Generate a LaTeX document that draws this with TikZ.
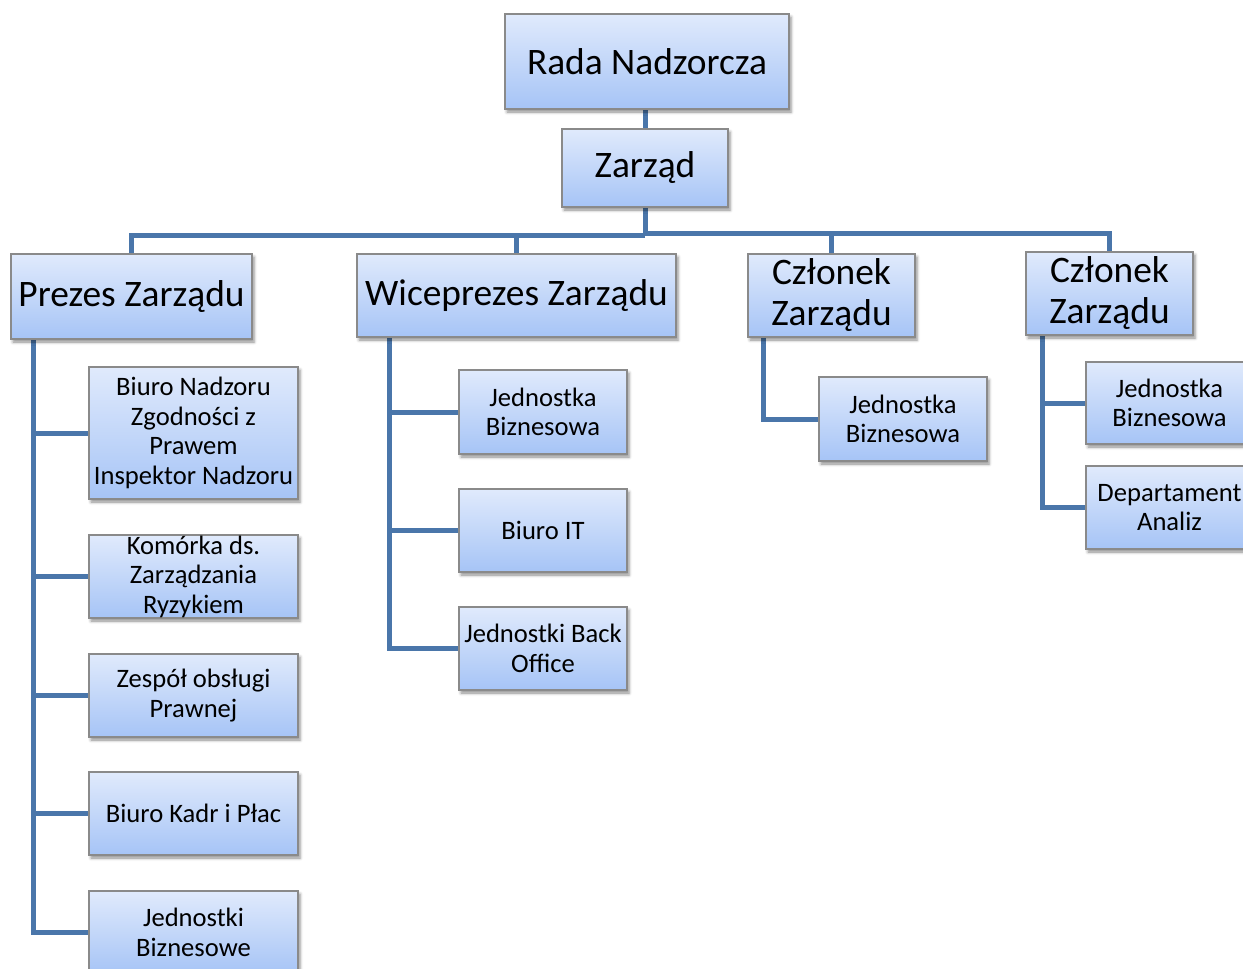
\documentclass[tikz,border=0pt]{standalone}
\usepackage{fontspec}
\setmainfont{Carlito}
\usetikzlibrary{shadows.blur,backgrounds}
\definecolor{conncol}{HTML}{4A76AA}
\definecolor{boxtop}{HTML}{E0EAFC}
\definecolor{boxbot}{HTML}{A6C4F6}
\definecolor{boxline}{HTML}{8A8A8A}
\newcommand\orgbox[7]{%
  \node[box, minimum width={#4-#2}, minimum height={#5-#3}] (#1) at ({(#2+#4)/2},{(#3+#5)/2}) {};
  \node[#6] (#1-t) at (#1.center) {#7};}
\begin{document}
\begin{tikzpicture}[x=1pt,y=-1pt,
  box/.style={draw=boxline, line width=1.2pt, top color=boxtop, bottom color=boxbot, inner sep=0pt,
    blur shadow={shadow xshift=2pt, shadow yshift=-3pt, shadow blur radius=3pt, shadow opacity=45}},
  big/.style={font=\fontsize{37.4}{41}\selectfont, align=center, inner sep=0pt},
  small/.style={font=\fontsize{26.6}{29.5}\selectfont, align=center, inner sep=0pt},
  conn/.style={draw=conncol, line width=5pt, line join=miter}]
\path[use as bounding box] (0,0) rectangle (1243,969);
\clip (0,0) rectangle (1243,969);

\orgbox{rada}{505}{14}{789}{109}{big}{Rada Nadzorcza}
\orgbox{zarzad}{562}{129}{728}{207}{big}{Zarząd}
\orgbox{prezes}{11}{254}{252}{339}{big}{Prezes Zarządu}
\orgbox{wice}{357}{254}{676}{337}{big}{Wiceprezes Zarządu}
\orgbox{czlA}{748}{254}{915}{337}{big}{Członek\\Zarządu}
\orgbox{czlB}{1026}{252}{1193}{335}{big}{Członek\\Zarządu}

\orgbox{pA}{89}{367}{298}{499}{small}{Biuro Nadzoru\\Zgodności z\\Prawem\\Inspektor Nadzoru}
\orgbox{pB}{89}{535}{298}{618}{small}{Komórka ds.\\Zarządzania\\Ryzykiem}
\orgbox{pC}{89}{654}{298}{737}{small}{Zespół obsługi\\Prawnej}
\orgbox{pD}{89}{772}{298}{855}{small}{Biuro Kadr i Płac}
\orgbox{pE}{89}{891}{298}{974}{small}{Jednostki\\Biznesowe}

\orgbox{wA}{459}{370}{627}{454}{small}{Jednostka\\Biznesowa}
\orgbox{wB}{459}{489}{627}{572}{small}{Biuro IT}
\orgbox{wC}{459}{607}{627}{690}{small}{Jednostki Back\\Office}

\orgbox{cA}{819}{377}{987}{461}{small}{Jednostka\\Biznesowa}

\orgbox{dA}{1086}{362}{1253}{444}{small}{Jednostka\\Biznesowa}
\orgbox{dB}{1086}{466}{1253}{549}{small}{Departament\\Analiz}

\begin{scope}[on background layer]
  \coordinate (busL) at (645,235);
  \coordinate (busR) at (645,233);
  \draw[conn] (zarzad.north) -- (zarzad.north |- rada.south);
  \draw[conn] (zarzad.south) -- (zarzad.south |- busL);
  \draw[conn] (prezes.north) |- (busL);
  \draw[conn] (wice.north) -- (wice.north |- busL);
  \draw[conn] (busR) -| (czlB.north);
  \draw[conn] (czlA.north) -- (czlA.north |- busR);

  \coordinate (pv) at ([xshift=23pt]prezes.south west);
  \draw[conn] (pv) |- (pE.west);
  \foreach \c in {pA,pB,pC,pD} \draw[conn] (\c.west) -- (\c.west -| pv);

  \coordinate (wv) at ([xshift=33pt]wice.south west);
  \draw[conn] (wv) |- (wC.west);
  \foreach \c in {wA,wB} \draw[conn] (\c.west) -- (\c.west -| wv);

  \coordinate (cv) at ([xshift=16pt]czlA.south west);
  \draw[conn] (cv) |- (cA.west);

  \coordinate (dv) at ([xshift=17pt]czlB.south west);
  \draw[conn] (dv) |- (dB.west);
  \draw[conn] (dA.west) -- (dA.west -| dv);
\end{scope}
\end{tikzpicture}
\end{document}
